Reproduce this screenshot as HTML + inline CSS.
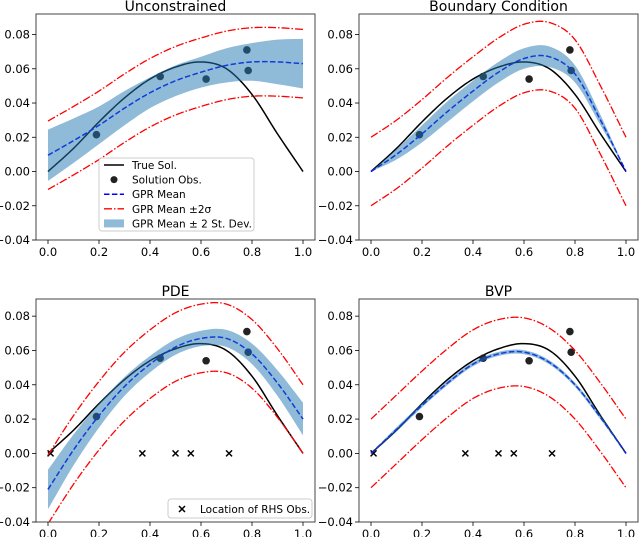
<!DOCTYPE html>
<html><head><meta charset="utf-8"><style>
body{margin:0;background:#fff;}
svg{display:block;font-family:"DejaVu Sans","Liberation Sans",sans-serif;}
</style></head><body>
<svg id="fig" width="640" height="537" viewBox="0 0 640 537" xmlns="http://www.w3.org/2000/svg"></svg>
<script>
const xs = [0,0.1,0.2,0.3,0.4,0.5,0.6,0.7,0.8,0.9,1.0];
const trueSol = [0,0.0135,0.029,0.043,0.054,0.061,0.064,0.060,0.045,0.022,0];
const obsX = [0.19,0.44,0.62,0.78,0.785];
const obsY = [0.0215,0.0555,0.054,0.071,0.059];
const rhsX = [0.01,0.37,0.50,0.56,0.71];
const uncMean = [0.0095,0.018,0.027,0.037,0.046,0.053,0.058,0.062,0.064,0.064,0.063];
const uncBand = [0.015,0.013,0.011,0.010,0.009,0.009,0.009,0.010,0.011,0.013,0.0145];
const bcMean = [0,0.010,0.022,0.035,0.047,0.058,0.066,0.067,0.057,0.030,0];
const bcBand = [0,0.003,0.005,0.006,0.006,0.006,0.006,0.006,0.005,0.003,0];
const pdeMean = [-0.021,0.002,0.022,0.039,0.052,0.062,0.067,0.067,0.058,0.041,0.020];
const pdeBand = [0.0115,0.009,0.007,0.0055,0.0048,0.0045,0.0045,0.005,0.006,0.0075,0.0095];
const bvpMean = [0,0.014,0.028,0.041,0.052,0.058,0.059,0.053,0.040,0.021,0];
const bvpBand = [0.0003,0.0012,0.0012,0.0012,0.0012,0.0012,0.0012,0.0012,0.0012,0.0012,0.0003];
const redHalf = [0.02,0.02,0.02,0.02,0.02,0.02,0.02,0.02,0.02,0.02,0.02];
const yTicks = [-0.04,-0.02,0,0.02,0.04,0.06,0.08];
const yTickLabels = ["\u22120.04","\u22120.02","0.00","0.02","0.04","0.06","0.08"];
const xTicks = [0,0.2,0.4,0.6,0.8,1.0];
const xTickLabels = ["0.0","0.2","0.4","0.6","0.8","1.0"];

const NS="http://www.w3.org/2000/svg";
const fig=document.getElementById('fig');
function mk(tag,parent,attrs){const e=document.createElementNS(NS,tag);for(const k in attrs)e.setAttribute(k,attrs[k]);parent.appendChild(e);return e;}
function smooth(vals){
  const out=[];
  for(let i=0;i<xs.length-1;i++){
    const p0=i>0?vals[i-1]:2*vals[0]-vals[1],p1=vals[i],p2=vals[i+1],p3=i+2<vals.length?vals[i+2]:2*vals[vals.length-1]-vals[vals.length-2];
    for(let s=0;s<10;s++){const t=s/10;
      const v=0.5*((2*p1)+(-p0+p2)*t+(2*p0-5*p1+4*p2-p3)*t*t+(-p0+3*p1-3*p2+p3)*t*t*t);
      out.push([xs[i]+(xs[i+1]-xs[i])*t,v]);}
  }
  out.push([xs[xs.length-1],vals[vals.length-1]]);
  return out;
}
function panel(name,title,L,R,T,B,ymax,mean,band,showRhs){
  const g=mk('g',fig,{});
  
  
  const x0=L+12,x1=R-12;
  const sx=v=>x0+(x1-x0)*v;
  const sy=v=>B-(v+0.04)/(ymax+0.04)*(B-T);
  const pth=pts=>pts.map((p,i)=>(i?'L':'M')+sx(p[0]).toFixed(2)+','+sy(p[1]).toFixed(2)).join('');
  const t=mk('text',g,{x:(L+R)/2,y:T-3,'text-anchor':'middle','font-size':14});
  t.textContent=title;
  
  
  const clip='c'+name;
  const cp=mk('clipPath',g,{id:clip});mk('rect',cp,{x:L,y:T,width:R-L,height:B-T});
  const pg=mk('g',g,{'clip-path':'url(#'+clip+')'});
  const tl=mk('path',pg,{d:pth(smooth(trueSol)),fill:'none',stroke:'#000','stroke-width':1.5});
  
  
  obsX.forEach((ox,i)=>{const c=mk('circle',pg,{cx:sx(ox),cy:sy(obsY[i]),r:3.8,fill:'#222'});
    
    });
  if(showRhs){rhsX.forEach(rx=>{const X=sx(rx),Y=sy(0);
    const m=mk('path',pg,{d:`M${X-3},${Y-3}L${X+3},${Y+3}M${X-3},${Y+3}L${X+3},${Y-3}`,stroke:'#000','stroke-width':1.5});
    
    });}
  const ml=mk('path',pg,{d:pth(smooth(mean)),fill:'none',stroke:'#0000ff','stroke-width':1.5,'stroke-dasharray':'5.5,2.4'});
  
  
  const up=smooth(mean.map((m,i)=>m+redHalf[i])),lo=smooth(mean.map((m,i)=>m-redHalf[i]));
  [up,lo].forEach(pp=>{const r=mk('path',pg,{d:pth(pp),fill:'none',stroke:'#ff0000','stroke-width':1.3,'stroke-dasharray':'8,2,1.5,2'});
    
    });
  const bu=smooth(mean.map((m,i)=>m+band[i])),bl=smooth(mean.map((m,i)=>m-band[i])).reverse();
  const bp=mk('path',pg,{d:pth(bu)+pth(bl).replace('M','L')+'Z',fill:'#1f77b4','fill-opacity':0.5,stroke:'none'});
  
  
  const fr=mk('rect',g,{x:L,y:T,width:R-L,height:B-T,fill:'none',stroke:'#444','stroke-width':1});
  
  
  yTicks.forEach((v,i)=>{const Y=sy(v);if(Y<T-0.5)return;
    mk('line',g,{x1:L-4,x2:L,y1:Y,y2:Y,stroke:'#000','stroke-width':0.8});
    const tx=mk('text',g,{x:L-6,y:Y+4,'text-anchor':'end','font-size':11.5});tx.textContent=yTickLabels[i];
    
    });
  xTicks.forEach((v,i)=>{const X=sx(v);
    mk('line',g,{x1:X,x2:X,y1:B,y2:B+4,stroke:'#000','stroke-width':0.8});
    const tx=mk('text',g,{x:X,y:B+16,'text-anchor':'middle','font-size':11.5});tx.textContent=xTickLabels[i];
    
    });
}
panel('panel-unconstrained','Unconstrained',36,315,14,240,0.092,uncMean,uncBand,false);
panel('panel-boundary-condition','Boundary Condition',359,638,14,240,0.092,bcMean,bcBand,false);
panel('panel-pde','PDE',36,315,299,522,0.09,pdeMean,pdeBand,true);
panel('panel-bvp','BVP',359,638,299,522,0.09,bvpMean,bvpBand,true);

const lg=mk('g',fig,{});


mk('rect',lg,{x:99,y:158,width:155,height:73,rx:3,fill:'#fff','fill-opacity':0.85,stroke:'#ccc'});
const items=[['line','True Sol.'],['dot','Solution Obs.'],['dash','GPR Mean'],['red','GPR Mean \u00b12\u03c3'],['band','GPR Mean \u00b1 2 St. Dev.']];
items.forEach((it,i)=>{const y=165+i*14.6;
  const e=mk('g',lg,{});
  
  
  if(it[0]==='line')mk('line',e,{x1:104,x2:124,y1:y,y2:y,stroke:'#000','stroke-width':1.5});
  if(it[0]==='dot')mk('circle',e,{cx:114,cy:y,r:3.5,fill:'#222'});
  if(it[0]==='dash')mk('line',e,{x1:104,x2:124,y1:y,y2:y,stroke:'#0000ff','stroke-width':1.5,'stroke-dasharray':'5.5,2.4'});
  if(it[0]==='red')mk('line',e,{x1:104,x2:124,y1:y,y2:y,stroke:'#ff0000','stroke-width':1.3,'stroke-dasharray':'8,2,1.5,2'});
  if(it[0]==='band')mk('rect',e,{x:104,y:y-4,width:20,height:8,fill:'#1f77b4','fill-opacity':0.5});
  const t=mk('text',e,{x:132,y:y+4,'font-size':10.5});t.textContent=it[1];});
const lg2=mk('g',fig,{});


mk('rect',lg2,{x:168,y:499,width:144,height:19,rx:3,fill:'#fff','fill-opacity':0.85,stroke:'#ccc'});
mk('path',lg2,{d:'M179,506L185,512M179,512L185,506',stroke:'#000','stroke-width':1.5});
const t2=mk('text',lg2,{x:200,y:513,'font-size':10.5});t2.textContent='Location of RHS Obs.';
</script>
</body></html>
